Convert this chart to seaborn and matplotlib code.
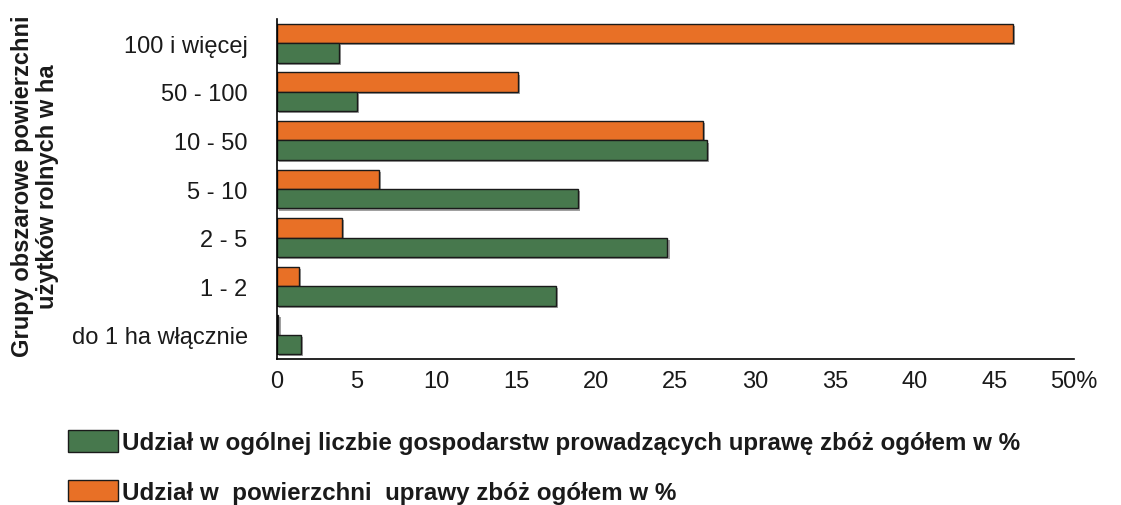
import pandas as pd
import matplotlib
matplotlib.use("Agg")
import matplotlib.pyplot as plt
import matplotlib.patheffects as pe
from matplotlib.patches import Patch
import seaborn as sns

# Dane
grupy = ["100 i więcej", "50 - 100", "10 - 50", "5 - 10", "2 - 5", "1 - 2", "do 1 ha włącznie"]
udzial_gosp = [3.9, 5.0, 27.0, 18.9, 24.5, 17.5, 1.5]
udzial_pow = [46.2, 15.1, 26.7, 6.4, 4.1, 1.4, 0.1]

seria_gosp = "Udział w ogólnej liczbie gospodarstw prowadzących uprawę zbóż ogółem w %"
seria_pow = "Udział w  powierzchni  uprawy zbóż ogółem w %"
x_ticks = [0, 5, 10, 15, 20, 25, 30, 35, 40, 45, 50]
x_labels = ["0", "5", "10", "15", "20", "25", "30", "35", "40", "45", "50%"]

kolor_gosp = "#47784D"
kolor_pow = "#E87026"

df = pd.DataFrame({
    "grupa": grupy * 2,
    "wartosc": udzial_pow + udzial_gosp,
    "seria": [seria_pow] * len(grupy) + [seria_gosp] * len(grupy),
})

sns.set_style("white")
plt.rcParams["font.family"] = ["Liberation Sans", "DejaVu Sans"]
plt.rcParams["text.color"] = "#1a1a1a"
plt.rcParams["xtick.color"] = "#1a1a1a"
plt.rcParams["ytick.color"] = "#1a1a1a"
plt.rcParams["axes.labelcolor"] = "#1a1a1a"

fig = plt.figure(figsize=(11.21, 5.06), dpi=100)
ax = fig.add_axes([0.247, 0.2885, 0.711, 0.672])

sns.barplot(data=df, y="grupa", x="wartosc", hue="seria", orient="h",
            hue_order=[seria_pow, seria_gosp],
            palette={seria_pow: kolor_pow, seria_gosp: kolor_gosp},
            order=grupy, width=0.8, saturation=1, legend=False, ax=ax)

# ciemna obwódka i lekki cień jak w oryginale
for bar in ax.patches:
    bar.set_edgecolor("#1a1a1a")
    bar.set_linewidth(1.0)
    bar.set_path_effects([pe.SimplePatchShadow(offset=(1.5, -1.5), shadow_rgbFace="#888888", alpha=0.8),
                          pe.Normal()])

ax.set_xlim(0, 50)
ax.set_ylim(len(grupy) - 0.5, -0.5)
ax.set_xticks(x_ticks)
ax.set_xticklabels(x_labels, fontsize=17)
ax.set_yticks(range(len(grupy)))
ax.set_yticklabels(grupy, fontsize=17)
ax.set_yticks([i - 0.5 for i in range(len(grupy) + 1)], minor=True)
ax.tick_params(axis="y", which="major", length=0, pad=21)
ax.tick_params(axis="y", which="minor", length=5, width=1, color="black", direction="out")
ax.tick_params(axis="x", which="major", length=4, width=1, color="black", direction="in", pad=8)

ax.set_xlabel("")
ax.set_ylabel("Grupy obszarowe powierzchni\nużytków rolnych w ha", fontsize=17,
              fontweight="bold", linespacing=1.12)
ax.yaxis.set_label_coords(-0.273, 0.51)

sns.despine(ax=ax)
for side in ["left", "bottom"]:
    ax.spines[side].set_color("black")
    ax.spines[side].set_linewidth(1.2)

handles = [Patch(facecolor=kolor_gosp, edgecolor="#1a1a1a", label=seria_gosp),
           Patch(facecolor=kolor_pow, edgecolor="#1a1a1a", label=seria_pow)]
fig.legend(handles=handles, loc="upper left", bbox_to_anchor=(0.0607, 0.148),
           frameon=False, prop={"size": 17.4, "weight": "bold"},
           handlelength=2.05, handleheight=1.0, handletextpad=0.17,
           labelspacing=1.05, borderaxespad=0, borderpad=0)

fig.savefig("out.png", dpi=100)
